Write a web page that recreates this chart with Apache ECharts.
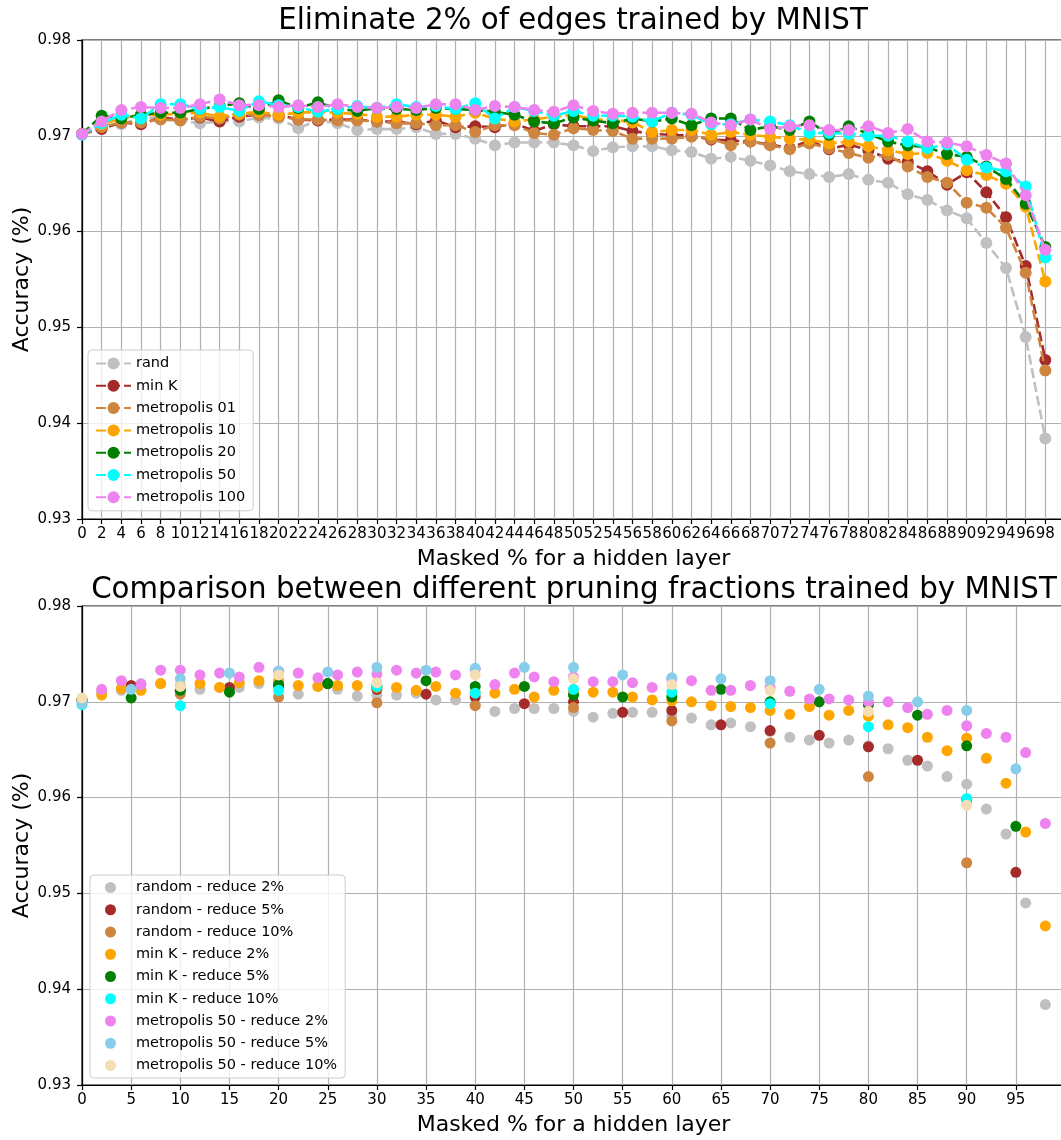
<!DOCTYPE html>
<html>
<head>
<meta charset="utf-8">
<script src="https://cdn.jsdelivr.net/npm/echarts@6/dist/echarts.min.js"></script>
<style>
  html, body { margin: 0; padding: 0; background: #fff; }
  #main { width: 1061px; height: 1140px; }
</style>
</head>
<body>
<div id="main"></div>
<script>
// Masked percentage of a hidden layer (upper panel: every 2%)
const maskedTop = [0, 2, 4, 6, 8, 10, 12, 14, 16, 18, 20, 22, 24, 26, 28, 30, 32, 34, 36, 38,
  40, 42, 44, 46, 48, 50, 52, 54, 56, 58, 60, 62, 64, 66, 68, 70, 72, 74, 76, 78,
  80, 82, 84, 86, 88, 90, 92, 94, 96, 98];
// Lower panel: runs pruned in steps of 5% and 10%
const masked5 = [0, 5, 10, 15, 20, 25, 30, 35, 40, 45, 50, 55, 60, 65, 70, 75, 80, 85, 90, 95];
const masked10 = [0, 10, 20, 30, 40, 50, 60, 70, 80, 90];

// Accuracy, eliminating 2% of edges per step
const rand = [0.9702, 0.9710, 0.9712, 0.9719, 0.9719, 0.9716, 0.9713, 0.9715, 0.9715, 0.9719,
  0.9718, 0.9708, 0.9716, 0.9713, 0.9706, 0.9707, 0.9707, 0.9709, 0.9702, 0.9702,
  0.9697, 0.9690, 0.9693, 0.9693, 0.9693, 0.9690, 0.9684, 0.9688, 0.9689, 0.9689,
  0.9685, 0.9683, 0.9676, 0.9678, 0.9674, 0.9669, 0.9663, 0.9660, 0.9657, 0.9660,
  0.9654, 0.9651, 0.9639, 0.9633, 0.9622, 0.9614, 0.9588, 0.9562, 0.9490, 0.9384];
const minK = [0.9702, 0.9707, 0.9714, 0.9712, 0.9719, 0.9717, 0.9719, 0.9715, 0.9720, 0.9722,
  0.9722, 0.9717, 0.9716, 0.9717, 0.9717, 0.9715, 0.9715, 0.9712, 0.9716, 0.9709,
  0.9710, 0.9709, 0.9713, 0.9705, 0.9712, 0.9710, 0.9710, 0.9710, 0.9705, 0.9702,
  0.9701, 0.9700, 0.9696, 0.9695, 0.9694, 0.9691, 0.9687, 0.9695, 0.9686, 0.9691,
  0.9685, 0.9676, 0.9673, 0.9663, 0.9649, 0.9662, 0.9641, 0.9615, 0.9564, 0.9466];
const metro01 = [0.9702, 0.9709, 0.9714, 0.9714, 0.9717, 0.9716, 0.9720, 0.9718, 0.9722, 0.9722,
  0.9720, 0.9717, 0.9717, 0.9716, 0.9716, 0.9715, 0.9713, 0.9713, 0.9711, 0.9711,
  0.9704, 0.9711, 0.9711, 0.9703, 0.9701, 0.9708, 0.9706, 0.9705, 0.9697, 0.9697,
  0.9697, 0.9699, 0.9697, 0.9690, 0.9694, 0.9690, 0.9686, 0.9692, 0.9687, 0.9682,
  0.9677, 0.9680, 0.9668, 0.9657, 0.9651, 0.9630, 0.9625, 0.9604, 0.9557, 0.9455];
const metro10 = [0.9702, 0.9712, 0.9718, 0.9722, 0.9722, 0.9723, 0.9724, 0.9720, 0.9723, 0.9725,
  0.9722, 0.9724, 0.9725, 0.9724, 0.9723, 0.9720, 0.9720, 0.9722, 0.9722, 0.9720,
  0.9724, 0.9718, 0.9715, 0.9717, 0.9720, 0.9722, 0.9717, 0.9717, 0.9714, 0.9704,
  0.9706, 0.9706, 0.9701, 0.9704, 0.9701, 0.9699, 0.9697, 0.9696, 0.9692, 0.9694,
  0.9689, 0.9685, 0.9681, 0.9682, 0.9674, 0.9664, 0.9659, 0.9650, 0.9626, 0.9548];
const metro20 = [0.9702, 0.9721, 0.9718, 0.9722, 0.9724, 0.9724, 0.9728, 0.9731, 0.9734, 0.9728,
  0.9737, 0.9729, 0.9735, 0.9728, 0.9726, 0.9729, 0.9728, 0.9727, 0.9729, 0.9728,
  0.9727, 0.9725, 0.9722, 0.9715, 0.9713, 0.9719, 0.9716, 0.9713, 0.9718, 0.9715,
  0.9718, 0.9711, 0.9718, 0.9718, 0.9706, 0.9710, 0.9706, 0.9715, 0.9701, 0.9710,
  0.9702, 0.9694, 0.9690, 0.9688, 0.9681, 0.9678, 0.9668, 0.9655, 0.9629, 0.9584];
const metro50 = [0.9701, 0.9713, 0.9722, 0.9718, 0.9733, 0.9733, 0.9728, 0.9730, 0.9726, 0.9736,
  0.9732, 0.9730, 0.9725, 0.9728, 0.9731, 0.9729, 0.9733, 0.9730, 0.9731, 0.9728,
  0.9734, 0.9718, 0.9730, 0.9726, 0.9721, 0.9726, 0.9721, 0.9721, 0.9720, 0.9715,
  0.9724, 0.9722, 0.9712, 0.9712, 0.9717, 0.9715, 0.9711, 0.9703, 0.9703, 0.9702,
  0.9700, 0.9700, 0.9694, 0.9687, 0.9691, 0.9675, 0.9667, 0.9663, 0.9647, 0.9573];
const metro100 = [0.9702, 0.9715, 0.9727, 0.9730, 0.9729, 0.9729, 0.9733, 0.9738, 0.9732, 0.9732,
  0.9730, 0.9732, 0.9730, 0.9733, 0.9730, 0.9729, 0.9730, 0.9729, 0.9733, 0.9733,
  0.9727, 0.9731, 0.9730, 0.9727, 0.9725, 0.9732, 0.9726, 0.9723, 0.9724, 0.9724,
  0.9724, 0.9723, 0.9714, 0.9711, 0.9717, 0.9707, 0.9710, 0.9711, 0.9706, 0.9706,
  0.9710, 0.9703, 0.9707, 0.9694, 0.9693, 0.9689, 0.9680, 0.9671, 0.9638, 0.9581];

// Accuracy for coarser pruning fractions (the 2% runs reuse the arrays above)
const random5 = [0.9702, 0.9717, 0.9712, 0.9715, 0.9717, 0.9719, 0.9713, 0.9708, 0.9705, 0.9698,
  0.9700, 0.9689, 0.9691, 0.9676, 0.9670, 0.9665, 0.9653, 0.9639, 0.9598, 0.9522];
const random10 = [0.9702, 0.9708, 0.9705, 0.9699, 0.9696, 0.9694, 0.9680, 0.9657, 0.9622, 0.9532];
const minK5 = [0.9702, 0.9704, 0.9712, 0.9710, 0.9718, 0.9719, 0.9716, 0.9722, 0.9716, 0.9716,
  0.9707, 0.9705, 0.9705, 0.9713, 0.9700, 0.9700, 0.9697, 0.9686, 0.9654, 0.9570];
const minK10 = [0.9697, 0.9696, 0.9712, 0.9716, 0.9709, 0.9713, 0.9710, 0.9698, 0.9674, 0.9599];
const metro50r5 = [0.9698, 0.9713, 0.9724, 0.9730, 0.9732, 0.9731, 0.9736, 0.9733, 0.9735, 0.9736,
  0.9736, 0.9728, 0.9725, 0.9724, 0.9722, 0.9713, 0.9706, 0.9700, 0.9691, 0.9630];
const metro50r10 = [0.9704, 0.9716, 0.9728, 0.9720, 0.9728, 0.9724, 0.9718, 0.9712, 0.9690, 0.9592];

const yTicks = [0.93, 0.94, 0.95, 0.96, 0.97, 0.98];

const FONT = 'DejaVu Sans';
const pair = (xs, ys) => xs.map((x, i) => [x, ys[i]]);

const topSeries = [
  ['rand', rand, '#c0c0c0'],
  ['min K', minK, '#a52a2a'],
  ['metropolis 01', metro01, '#cd853f'],
  ['metropolis 10', metro10, '#ffa500'],
  ['metropolis 20', metro20, '#008000'],
  ['metropolis 50', metro50, '#00ffff'],
  ['metropolis 100', metro100, '#ee82ee']
];
const bottomSeries = [
  ['random - reduce 2%', maskedTop, rand, '#c0c0c0'],
  ['random - reduce 5%', masked5, random5, '#a52a2a'],
  ['random - reduce 10%', masked10, random10, '#cd853f'],
  ['min K - reduce 2%', maskedTop, minK, '#ffa500'],
  ['min K - reduce 5%', masked5, minK5, '#008000'],
  ['min K - reduce 10%', masked10, minK10, '#00ffff'],
  ['metropolis 50 - reduce 2%', maskedTop, metro50, '#ee82ee'],
  ['metropolis 50 - reduce 5%', masked5, metro50r5, '#87ceeb'],
  ['metropolis 50 - reduce 10%', masked10, metro50r10, '#f5deb3']
];

function xAxisFor(gridIndex, step) {
  return {
    gridIndex, type: 'value', min: 0, max: 100, interval: step,
    name: 'Masked % for a hidden layer', nameLocation: 'middle', nameGap: 29, nameMoveOverlap: false,
    nameTextStyle: { fontSize: 22, color: '#000', fontFamily: FONT },
    axisLine: { show: true, onZero: false, lineStyle: { color: '#000', width: 1.2 } },
    axisTick: { show: true, inside: false, length: 5, lineStyle: { color: '#000', width: 1.2 } },
    axisLabel: { fontSize: 15, color: '#000', margin: 8, fontFamily: FONT,
      formatter: v => (v >= 100 ? '' : String(v)) },
    splitLine: { show: true, lineStyle: { color: '#b0b0b0', width: 1.2 } }
  };
}
function yAxisFor(gridIndex) {
  return {
    gridIndex, type: 'value', min: yTicks[0], max: yTicks[yTicks.length - 1], interval: 0.01,
    name: 'Accuracy (%)', nameLocation: 'middle', nameGap: 49, nameRotate: 90, nameMoveOverlap: false,
    nameTextStyle: { fontSize: 22, color: '#000', fontFamily: FONT },
    axisLine: { show: true, lineStyle: { color: '#000', width: 1.2 } },
    axisTick: { show: true, inside: false, length: 5, lineStyle: { color: '#000', width: 1.2 } },
    axisLabel: { fontSize: 15, color: '#000', margin: 11, fontFamily: FONT,
      formatter: v => v.toFixed(2) },
    splitLine: { show: true, lineStyle: { color: '#b0b0b0', width: 1.2 } }
  };
}

const series = [];
topSeries.forEach(([name, vals, color], i) => {
  series.push({
    name, type: 'line', xAxisIndex: 0, yAxisIndex: 0, z: 10 + i,
    data: pair(maskedTop, vals),
    symbol: 'circle', symbolSize: 12, showSymbol: true,
    lineStyle: { color, width: 2.6, type: [10, 4] },
    itemStyle: { color },
    emphasis: { disabled: true }, animation: false
  });
});
bottomSeries.forEach(([name, xs, vals, color], i) => {
  series.push({
    name, type: 'scatter', xAxisIndex: 1, yAxisIndex: 1, z: 10 + i,
    data: pair(xs, vals),
    symbol: 'circle', symbolSize: 11,
    itemStyle: { color, opacity: 1 },
    emphasis: { disabled: true }, animation: false
  });
});

const legendBase = {
  orient: 'vertical', itemWidth: 35,
  backgroundColor: 'rgba(255,255,255,0.8)', borderColor: '#cccccc', borderWidth: 1, borderRadius: 4,
  textStyle: { fontSize: 14.5, lineHeight: 15, color: '#000', fontFamily: FONT },
  selectedMode: false
};

const option = {
  animation: false,
  textStyle: { fontFamily: FONT },
  title: [
    { text: 'Eliminate 2% of edges trained by MNIST', left: 573, top: 7, textAlign: 'center', padding: 0,
      textStyle: { fontSize: 29.3, fontWeight: 'normal', color: '#000', fontFamily: FONT } },
    { text: 'Comparison between different pruning fractions trained by MNIST', left: 574, top: 576,
      textAlign: 'center', padding: 0,
      textStyle: { fontSize: 29.3, fontWeight: 'normal', color: '#000', fontFamily: FONT } }
  ],
  grid: [
    { left: 82, top: 40, width: 983, height: 479, show: true, borderColor: '#000', borderWidth: 1.2,
      containLabel: false, outerBoundsMode: 'none' },
    { left: 82, top: 606, width: 983, height: 479, show: true, borderColor: '#000', borderWidth: 1.2,
      containLabel: false, outerBoundsMode: 'none' }
  ],
  xAxis: [xAxisFor(0, 2), xAxisFor(1, 5)],
  yAxis: [yAxisFor(0), yAxisFor(1)],
  legend: [
    Object.assign({}, legendBase, {
      data: topSeries.map(s => s[0]), left: 88, top: 350,
      itemHeight: 15, itemGap: 7.3, padding: [6, 8, 6, 7]
    }),
    Object.assign({}, legendBase, {
      data: bottomSeries.map(s => s[0]), left: 90, top: 875,
      itemHeight: 11, itemGap: 7.25, padding: [5, 8, 5, 15],
      textStyle: { fontSize: 14.5, lineHeight: 15, color: '#000', fontFamily: FONT, padding: [0, 0, 0, 3] }
    })
  ],
  series
};

const chart = echarts.init(document.getElementById('main'), null, { renderer: 'canvas', width: 1061, height: 1140 });
chart.setOption(option);
</script>
</body>
</html>
